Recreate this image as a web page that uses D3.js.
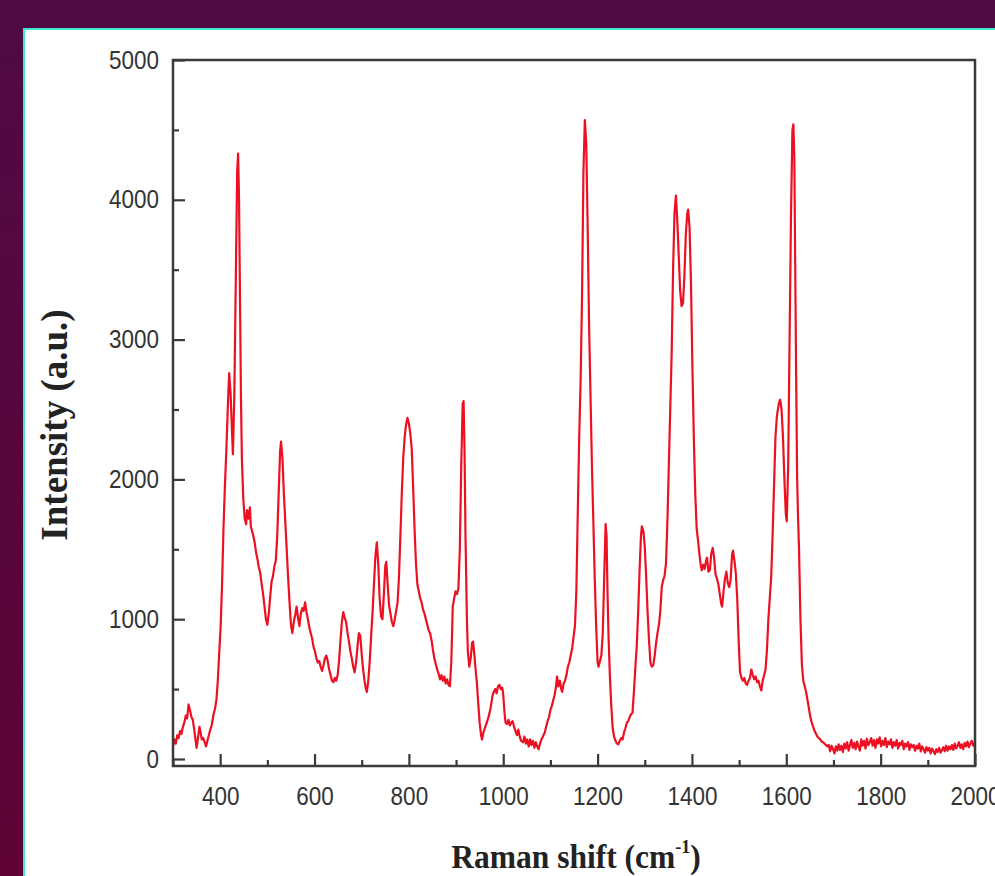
<!DOCTYPE html>
<meta charset="utf-8">
<style>
body { margin: 0; background: #520a42; }
svg { display: block; }
</style>
<body>
<div id="chart"></div>
<script src="https://d3js.org/d3.v7.min.js"></script>
<script>
// Raman spectrum, values
const ramanShift = [
  300,303,306,309,312,315,318,321,324,327,330,333,336,339,342,345,348,350,353,356,358,361,364,367,370,373,376,379,382,386,389,392,395,398,
  401,404,407,410,413,416,419,422,425,427,430,433,436,438,440,442,444,446,449,452,455,457,460,463,465,467,470,473,476,479,482,485,488,491,494,497,
  500,503,506,509,512,515,518,521,524,527,529,532,535,538,541,544,547,550,553,556,559,562,565,568,571,574,577,580,583,586,589,592,595,598,
  601,604,607,610,613,616,619,622,625,628,631,634,637,640,643,646,649,652,655,658,661,664,667,670,673,676,679,682,685,688,691,694,697,
  700,703,706,709,711,714,717,720,723,726,729,732,735,738,741,744,747,750,752,755,758,761,764,767,770,773,776,779,782,785,788,791,794,797,
  800,803,806,809,812,815,818,821,824,827,830,833,836,839,842,845,848,851,854,857,860,863,866,869,872,875,878,881,884,887,890,893,896,899,
  902,905,908,911,914,916,918,920,923,925,928,931,934,936,939,942,944,947,950,953,955,958,961,964,968,971,974,977,980,983,986,989,992,995,998,
  1000,1003,1005,1008,1011,1014,1017,1020,1023,1026,1029,1032,1035,1038,1042,1045,1048,1051,1054,1057,1060,1063,1066,1069,1072,1075,1078,1081,1084,1088,1091,1094,1097,
  1100,1103,1106,1109,1112,1114,1117,1120,1123,1125,1128,1131,1134,1137,1140,1143,1146,1149,1152,1155,1158,1161,1164,1167,1170,1173,1176,1179,1182,1185,1188,1191,1194,1197,
  1200,1202,1205,1208,1211,1214,1217,1219,1221,1223,1226,1229,1232,1235,1238,1241,1244,1247,1250,1253,1256,1259,1262,1265,1268,1271,1274,1277,1280,1283,1286,1289,1292,1294,1297,
  1300,1303,1306,1309,1312,1315,1318,1321,1324,1327,1330,1333,1336,1339,1342,1345,1348,1351,1354,1357,1360,1363,1366,1369,1372,1375,1378,1381,1384,1387,1390,1392,1395,1398,
  1401,1404,1407,1410,1413,1416,1419,1421,1424,1427,1430,1432,1435,1438,1441,1444,1447,1450,1453,1456,1459,1462,1464,1467,1470,1473,1476,1479,1482,1485,1487,1490,1493,1496,1499,
  1502,1505,1508,1511,1514,1517,1520,1523,1526,1529,1532,1535,1538,1541,1544,1547,1550,1553,1556,1559,1562,1565,1568,1571,1574,1577,1580,1584,1587,1590,1593,1596,1599,
  1601,1604,1607,1610,1613,1615,1617,1619,1621,1623,1625,1627,1630,1633,1636,1639,1642,1645,1648,1651,1654,1657,1660,1663,1666,1669,1672,1675,1678,1681,1684,1687,
  1690,1693,1696,1699,1702,1705,1708,1711,1714,1717,1720,1723,1726,1729,1732,1735,1738,1741,1744,1747,1750,1753,1756,1759,1762,1765,1768,1771,1774,1777,
  1780,1783,1786,1789,1792,1795,1798,1801,1804,1807,1810,1813,1816,1819,1822,1825,1828,1831,1834,1837,1840,1843,1846,1849,1852,1855,1858,1861,1864,1867,
  1870,1873,1876,1879,1882,1885,1888,1891,1894,1897,1900,1903,1906,1909,1912,1915,1918,1921,1924,1927,1930,1933,1936,1939,1942,1945,1948,1951,1954,1957,
  1960,1963,1966,1969,1972,1975,1978,1981,1984,1987,1990,1993,1996,2000
];
const intensity = [
  90,140,110,170,150,200,180,230,260,310,290,390,350,300,280,210,130,80,150,230,200,140,150,120,90,130,170,210,240,320,360,420,560,760,
  950,1250,1650,1950,2200,2500,2760,2620,2350,2180,2600,3400,4200,4330,4000,3300,2600,2150,1860,1720,1680,1780,1720,1800,1660,1640,1600,1550,1480,1430,1370,1330,1250,1180,1090,1000,
  960,1040,1160,1270,1310,1380,1420,1600,1900,2200,2270,2150,1900,1700,1500,1300,1120,960,900,980,1030,1090,1010,950,1040,1080,1060,1120,1050,1000,940,900,860,800,
  770,720,690,700,660,630,670,720,740,700,640,600,560,550,580,560,600,700,850,980,1050,1010,980,900,840,770,720,660,620,690,800,900,880,
  750,640,560,500,480,560,700,880,1050,1250,1450,1550,1400,1150,1020,1000,1180,1380,1410,1250,1100,1040,980,950,1000,1060,1120,1300,1600,1900,2150,2300,2390,2440,
  2400,2330,2220,1950,1650,1400,1250,1200,1150,1120,1070,1040,1000,960,920,900,850,780,720,680,640,610,570,600,560,590,540,570,530,520,700,1090,1150,1200,
  1180,1220,1500,2100,2540,2560,2200,1600,1000,770,660,720,830,840,740,620,550,400,260,170,140,190,220,250,290,330,380,450,480,500,470,520,530,500,510,
  460,320,260,250,280,240,260,270,230,200,170,210,160,130,120,160,110,140,90,140,100,130,80,120,90,70,110,140,160,190,230,270,300,
  350,380,420,460,520,590,520,560,500,480,540,560,600,660,690,740,790,870,950,1200,1760,2300,2700,3300,4200,4570,4400,3800,3100,2600,2100,1700,1290,950,
  690,660,700,740,900,1300,1680,1600,1200,900,600,380,220,160,130,110,105,130,150,140,190,220,260,270,300,320,330,480,650,810,1050,1350,1600,1665,1630,
  1520,1300,1050,850,690,660,670,740,830,900,960,1060,1230,1280,1310,1400,1700,2100,2500,2900,3500,3900,4030,3850,3600,3350,3240,3260,3450,3750,3900,3930,3800,3400,
  2800,2300,1900,1650,1560,1460,1380,1350,1390,1360,1420,1440,1340,1350,1470,1510,1440,1320,1290,1250,1180,1110,1090,1200,1290,1340,1260,1230,1280,1460,1490,1420,1330,1150,850,
  620,580,560,580,540,530,560,580,640,600,570,590,550,560,520,490,560,600,640,780,1000,1150,1300,1600,1950,2300,2450,2540,2570,2500,2300,2000,1750,
  1700,2100,3000,3900,4500,4540,4300,3500,2700,2000,1720,1500,1000,680,560,520,480,420,360,300,260,230,200,180,160,150,140,125,120,110,100,90,
  100,55,95,70,40,90,60,105,65,95,50,110,75,120,60,100,135,80,115,70,125,90,60,140,95,130,75,145,100,120,
  150,95,135,80,140,110,155,90,130,100,150,85,125,105,140,80,120,95,135,75,115,100,130,70,110,90,120,65,105,85,
  100,60,95,75,110,55,90,70,45,85,60,80,40,75,55,35,70,50,80,45,65,85,55,95,60,90,70,100,65,110,
  75,95,120,80,105,70,115,90,125,85,110,130,95,120
];
if (ramanShift.length !== intensity.length) {
  throw new Error("length mismatch " + ramanShift.length + " vs " + intensity.length);
}
const xMajor = [400, 600, 800, 1000, 1200, 1400, 1600, 1800, 2000];
const xMinor = [300, 500, 700, 900, 1100, 1300, 1500, 1700, 1900];
const yMajor = [0, 1000, 2000, 3000, 4000, 5000];
const yMinor = [500, 1500, 2500, 3500, 4500];

const width = 995, height = 876;
const plotL = 173, plotR = 975, plotT = 60, plotB = 766;

const svg = d3.select("#chart").append("svg")
  .attr("width", width)
  .attr("height", height);

// background
const defs = svg.append("defs");
const grad = defs.append("linearGradient")
  .attr("id", "bg").attr("x1", 0).attr("y1", 0).attr("x2", 0).attr("y2", 1);
grad.append("stop").attr("offset", "0%").attr("stop-color", "#4f0a44");
grad.append("stop").attr("offset", "100%").attr("stop-color", "#5e0334");
svg.append("rect").attr("width", width).attr("height", height).attr("fill", "url(#bg)");

// white panel with cyan edge
svg.append("rect")
  .attr("x", 24).attr("y", 29)
  .attr("width", width).attr("height", height)
  .attr("fill", "#fff")
  .attr("stroke", "#3fe8d2")
  .attr("stroke-width", 2);

const x = d3.scaleLinear().domain([300, 2000]).range([plotL, plotR]);
const y = d3.scaleLinear().domain([0, 5000]).range([759, plotT]);

defs.append("clipPath").attr("id", "clip")
  .append("rect").attr("x", plotL).attr("y", plotT)
  .attr("width", plotR - plotL).attr("height", plotB - plotT);

const line = d3.line()
  .x(function(d, i) { return x(ramanShift[i]); })
  .y(function(d) { return y(d); });

svg.append("path")
  .datum(intensity)
  .attr("clip-path", "url(#clip)")
  .attr("fill", "none")
  .attr("stroke", "#ec1022")
  .attr("stroke-width", 2.2)
  .attr("stroke-linejoin", "round")
  .attr("d", line);

// axes, ticks pointing inward
function styleAxis(g) {
  g.select(".domain").remove();
  g.selectAll(".tick line").attr("stroke", "#3a3a3a").attr("stroke-width", 2.2);
  g.selectAll(".tick text")
    .attr("fill", "#333")
    .style("font-family", "'Liberation Sans', Arial, sans-serif")
    .style("font-size", "22.5px");
}

svg.append("g")
  .attr("transform", "translate(0," + plotB + ")")
  .call(d3.axisBottom(x).tickValues(xMinor).tickSize(-6).tickFormat(""))
  .call(styleAxis);
svg.append("g")
  .attr("transform", "translate(0," + plotB + ")")
  .call(d3.axisBottom(x).tickValues(xMajor).tickSize(-12).tickFormat(d3.format("d")))
  .call(styleAxis)
  .selectAll(".tick text")
    .attr("y", null).attr("dy", null)
    .attr("transform", "translate(0,39) scale(1,1.12)");

svg.append("g")
  .attr("transform", "translate(" + plotL + ",0)")
  .call(d3.axisLeft(y).tickValues(yMinor).tickSize(-6).tickFormat(""))
  .call(styleAxis);
svg.append("g")
  .attr("transform", "translate(" + plotL + ",0)")
  .call(d3.axisLeft(y).tickValues(yMajor).tickSize(-12).tickFormat(d3.format("d")))
  .call(styleAxis)
  .selectAll(".tick text")
    .attr("x", null).attr("dy", null)
    .attr("transform", "translate(-14,8) scale(1,1.12)");

// frame
svg.append("rect")
  .attr("x", plotL).attr("y", plotT)
  .attr("width", plotR - plotL).attr("height", plotB - plotT)
  .attr("fill", "none")
  .attr("stroke", "#3a3a3a")
  .attr("stroke-width", 2.5);

// axis titles
svg.append("text")
  .attr("transform", "translate(67,425) rotate(-90)")
  .attr("text-anchor", "middle")
  .style("font-family", "'Liberation Serif', 'Times New Roman', serif")
  .style("font-weight", "bold")
  .style("font-size", "37px")
  .attr("fill", "#222")
  .text("Intensity (a.u.)");

const xt = svg.append("text")
  .attr("transform", "translate(576,868) scale(1,1.08)")
  .attr("text-anchor", "middle")
  .style("font-family", "'Liberation Serif', 'Times New Roman', serif")
  .style("font-weight", "bold")
  .style("font-size", "31.5px")
  .attr("fill", "#222");
xt.append("tspan").text("Raman shift (cm");
xt.append("tspan").attr("dy", -14).style("font-size", "18px").text("-1");
xt.append("tspan").attr("dy", 14).text(")");
</script>
</body>
